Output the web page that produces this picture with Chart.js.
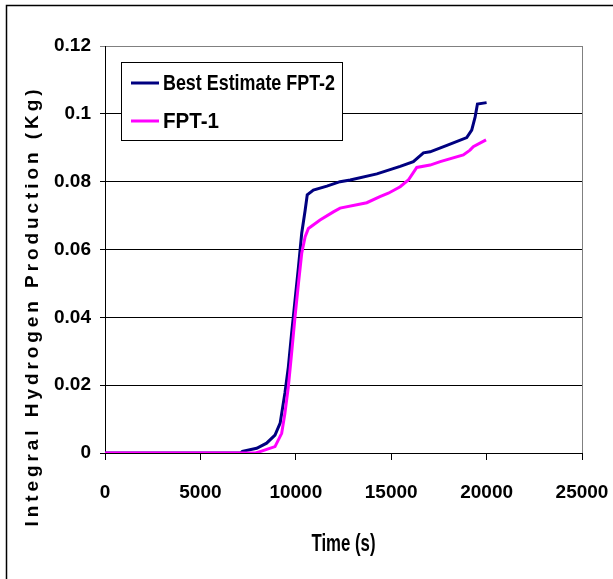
<!DOCTYPE html>
<html>
<head>
<meta charset="utf-8">
<script src="https://cdn.jsdelivr.net/npm/chart.js@4/dist/chart.umd.min.js"></script>
<style>
  html, body { margin: 0; padding: 0; background: #fff; }
  canvas { display: block; }
</style>
</head>
<body>
<canvas id="c" width="613" height="579"></canvas>
<script>
// ---- data ----
const seriesNames = ['Best Estimate FPT-2', 'FPT-1'];
const fpt2Time = [0, 7100, 7200, 7950, 8470, 8910, 9180, 9430, 9610, 9780, 9960, 10140, 10310, 10490, 10600, 10920, 11630, 12320, 12850, 14250, 15470, 16160, 16690, 17040, 17920, 18960, 19220, 19400, 19520, 20000];
const fpt2H2   = [0, 0, 0.0005, 0.0014, 0.0029, 0.0053, 0.0088, 0.0177, 0.0254, 0.0353, 0.0451, 0.0549, 0.0648, 0.0716, 0.0761, 0.0775, 0.0787, 0.0800, 0.0805, 0.0823, 0.0845, 0.0859, 0.0885, 0.0888, 0.0907, 0.0930, 0.0952, 0.0991, 0.1029, 0.1033];
const fpt1Time = [0, 7900, 8120, 8910, 9260, 9430, 9610, 9780, 9960, 10140, 10310, 10490, 10660, 11270, 11970, 12320, 13720, 14410, 14850, 15470, 15900, 16340, 17040, 17570, 18780, 19130, 19300, 19970];
const fpt1H2   = [0, 0, 0.0004, 0.0019, 0.0058, 0.0117, 0.0196, 0.0294, 0.0402, 0.0500, 0.0589, 0.0638, 0.0662, 0.0687, 0.0711, 0.0722, 0.0738, 0.0756, 0.0766, 0.0785, 0.0805, 0.0842, 0.0849, 0.0859, 0.0879, 0.0893, 0.0903, 0.0923];
const yTickLabels = ['0', '0.02', '0.04', '0.06', '0.08', '0.1', '0.12'];
const xTickLabels = ['0', '5000', '10000', '15000', '20000', '25000'];
const xTitle = 'Time (s)';
const yTitle = 'Integral Hydrogen Production (Kg)';

const wide = '"Liberation Sans", Arial, sans-serif';
const colBlue = '#000080';
const colPink = '#FF00FF';

const pts = (xs, ys) => xs.map((x, i) => ({ x: x, y: ys[i] }));

// draw text squeezed horizontally to a target width (imitates a narrow face)
function squeezedText(ctx, text, x, y, font, targetW, align) {
  ctx.save();
  ctx.font = font;
  const w = ctx.measureText(text).width;
  const k = Math.min(1, targetW / w);
  ctx.translate(x, y);
  ctx.scale(k, 1);
  ctx.textAlign = align || 'left';
  ctx.fillText(text, 0, 0);
  ctx.restore();
}

const decorPlugin = {
  id: 'decor',
  beforeDraw(chart) {
    const ctx = chart.ctx;
    ctx.save();
    ctx.fillStyle = '#fff';
    ctx.fillRect(0, 0, chart.width, chart.height);
    ctx.strokeStyle = '#000';
    ctx.lineWidth = 1.5;
    ctx.beginPath();
    ctx.moveTo(6.5, chart.height);
    ctx.lineTo(6.5, 5.5);
    ctx.lineTo(chart.width, 5.5);
    ctx.stroke();
    ctx.restore();
  },
  afterDatasetsDraw(chart) {
    const ctx = chart.ctx;
    const a = chart.chartArea;
    ctx.save();
    // right frame
    ctx.strokeStyle = '#808080';
    ctx.lineWidth = 1;
    ctx.beginPath();
    ctx.moveTo(Math.round(a.right) + 0.5, a.top);
    ctx.lineTo(Math.round(a.right) + 0.5, a.bottom);
    ctx.stroke();

    // y title with letter spacing
    ctx.font = 'bold 19px ' + wide;
    ctx.fillStyle = '#000';
    const base = ctx.measureText(yTitle).width;
    const target = 437;
    const sp = Math.max(0, (target - base) / (yTitle.length - 1));
    ctx.letterSpacing = sp.toFixed(2) + 'px';
    ctx.translate(33, 306);
    ctx.rotate(-Math.PI / 2);
    ctx.textAlign = 'center';
    ctx.textBaseline = 'middle';
    ctx.fillText(yTitle, 0, 0);
    ctx.restore();

    // x title
    ctx.save();
    ctx.fillStyle = '#000';
    ctx.textBaseline = 'middle';
    squeezedText(ctx, xTitle, (a.left + a.right) / 2, 545, 'bold 23px ' + wide, 64, 'center');
    ctx.restore();

    // legend box
    ctx.save();
    const lx = 121.5, ly = 62.5, lw = 221, lh = 78;
    ctx.fillStyle = '#fff';
    ctx.fillRect(lx, ly, lw, lh);
    ctx.strokeStyle = '#000';
    ctx.lineWidth = 1;
    ctx.strokeRect(lx, ly, lw, lh);
    const rows = [83, 121];
    const widths = [172, 56];
    ctx.textBaseline = 'middle';
    [0, 1].forEach((di, k) => {
      const ds = chart.data.datasets[di];
      ctx.strokeStyle = ds.borderColor;
      ctx.lineWidth = 3;
      ctx.beginPath();
      ctx.moveTo(131, rows[k]);
      ctx.lineTo(159, rows[k]);
      ctx.stroke();
      ctx.fillStyle = '#000';
      squeezedText(ctx, ds.label, 163, rows[k] + 1, 'bold 22px ' + wide, widths[k], 'left');
    });
    ctx.restore();
  }
};

new Chart(document.getElementById('c'), {
  type: 'line',
  data: {
    datasets: [
      { label: seriesNames[0], data: pts(fpt2Time, fpt2H2), borderColor: colBlue, backgroundColor: colBlue, borderWidth: 3, pointRadius: 0, tension: 0, order: 1 },
      { label: seriesNames[1], data: pts(fpt1Time, fpt1H2), borderColor: colPink, backgroundColor: colPink, borderWidth: 3, pointRadius: 0, tension: 0, order: 0 }
    ]
  },
  options: {
    responsive: false,
    devicePixelRatio: 1,
    animation: false,
    layout: { padding: { top: 46, right: 0, left: 0, bottom: 0 } },
    plugins: { legend: { display: false }, tooltip: { enabled: false } },
    scales: {
      x: {
        type: 'linear', min: 0, max: 25000,
        ticks: {
          stepSize: 5000, color: '#000', padding: 21, maxRotation: 0,
          font: { family: wide, size: 19, weight: 'bold' },
          callback: (v, i) => xTickLabels[i]
        },
        grid: { drawOnChartArea: false, drawTicks: true, tickLength: 7, color: '#000' },
        border: { display: true, color: '#000', width: 1 },
        title: { display: false },
        afterFit(s) { s.height = 126; s.paddingRight = 31; }
      },
      y: {
        min: 0, max: 0.12,
        ticks: {
          stepSize: 0.02, color: '#000', padding: 9,
          font: { family: wide, size: 19, weight: 'bold' },
          callback: (v, i) => yTickLabels[i]
        },
        grid: {
          drawTicks: true, tickLength: 5, lineWidth: 1,
          color: (c) => (c.index === yTickLabels.length - 1 ? '#808080' : '#000')
        },
        border: { display: true, color: '#000', width: 1 },
        afterFit(s) { s.width = 105; }
      }
    }
  },
  plugins: [decorPlugin]
});
</script>
</body>
</html>
